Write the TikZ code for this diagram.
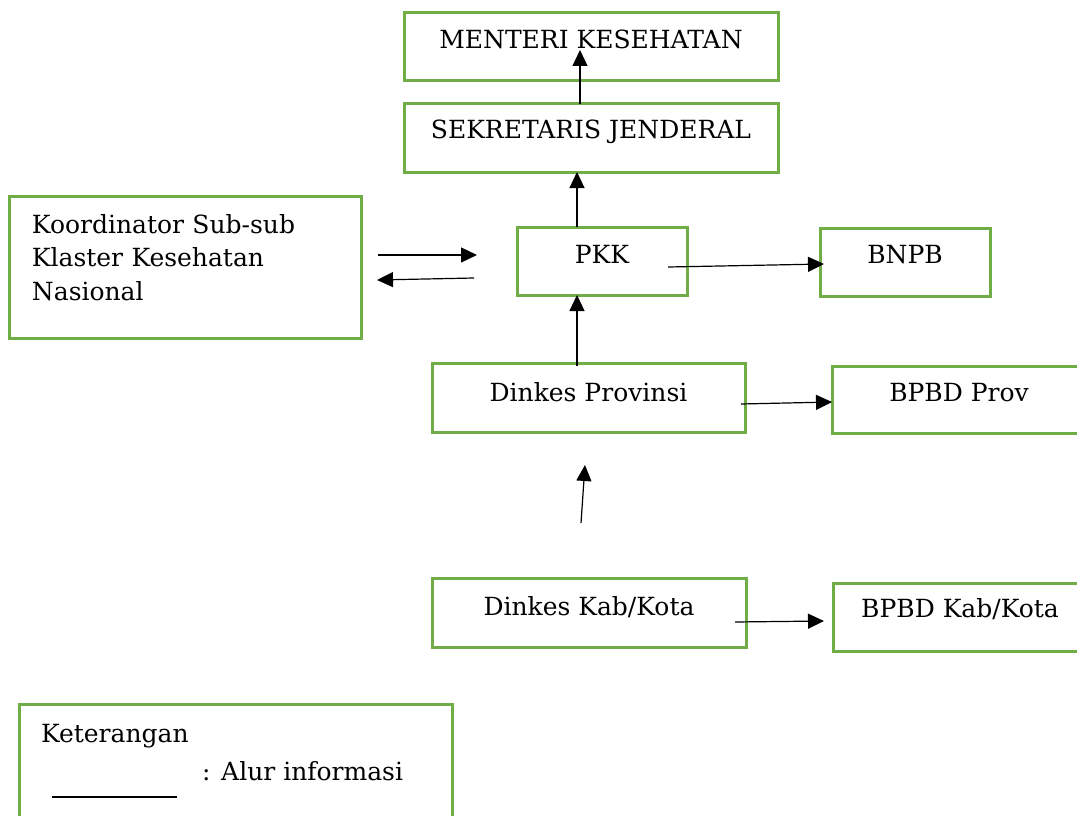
\documentclass[tikz,border=0pt]{standalone}
\usepackage{fontspec}
\setmainfont{DejaVu Serif}
\usetikzlibrary{arrows.meta}
\definecolor{boxgreen}{HTML}{70AD47}
\tikzset{
  gbox/.style={draw=boxgreen, line width=3pt, inner sep=0pt, outer sep=0pt, anchor=north west, align=center},
  arr/.style={draw=black, line width=1.2pt, -{Triangle[length=16pt,width=15pt]}},
  plain/.style={draw=black, line width=1.2pt},
  every node/.style={font=\fontsize{25pt}{33.5pt}\selectfont}
}
\begin{document}
\begin{tikzpicture}[x=1pt,y=-1pt]
\useasboundingbox[fill=white] (0,0) rectangle (1077,816);
% boxes
\node[gbox, minimum width=374pt, text height=36pt, text depth=32pt] (men) at (404,13) {MENTERI KESEHATAN};
\node[gbox, minimum width=374pt, text height=35pt, text depth=33pt] (sek) at (404,104) {SEKRETARIS JENDERAL};
\node[gbox, text width=352pt, align=left, text height=37pt, text depth=105pt] (koor) at (9,196)
  {\hspace*{23pt}Koordinator Sub-sub\\\hspace*{23pt}Klaster Kesehatan\\\hspace*{23pt}Nasional};
\node[gbox, minimum width=170pt, text height=36pt, text depth=32pt] (pkk) at (517,227) {PKK};
\node[gbox, minimum width=170pt, text height=35pt, text depth=33pt] (bnpb) at (820,228) {BNPB};
\node[gbox, minimum width=313pt, text height=38pt, text depth=31pt] (dprov) at (432,363) {Dinkes Provinsi};
\node[gbox, minimum width=254pt, text height=35pt, text depth=32pt] (bprov) at (832,366) {BPBD Prov};
\node[gbox, minimum width=314pt, text height=37pt, text depth=32pt] (dkab) at (432,578) {Dinkes Kab/Kota};
\node[gbox, minimum width=254pt, text height=34pt, text depth=34pt] (bkab) at (833,583) {BPBD Kab/Kota};
\node[gbox, text width=433pt, align=left, text height=38pt, text depth=90pt] (ket) at (19,704)
  {\hspace*{22pt}Keterangan};
\node[anchor=base west, inner sep=0pt] (alur) at (202,780) {: Alur informasi};
% free ends
\coordinate (t1) at (580,50);
\coordinate (k1s) at (378,255);
\coordinate (k1e) at (477,255);
\coordinate (k2s) at (474,278);
\coordinate (k2e) at (377,280);
\coordinate (p1s) at (668,267);
\coordinate (p1e) at (824,264);
\coordinate (d1s) at (741,404);
\coordinate (d1e) at (832,402);
\coordinate (f1s) at (581,523);
\coordinate (f1e) at (585,465);
\coordinate (d2s) at (735,622);
\coordinate (d2e) at (824,621);
\coordinate (l1) at (52,797);
\coordinate (l2) at (177,797);
% connectors
\draw[arr] (sek.north -| t1) -- (t1);
\draw[arr] (pkk.north -| 577,0) -- (sek.south -| 577,0);
\draw[arr] ([yshift=-3pt]dprov.north -| 577,0) -- (pkk.south -| 577,0);
\draw[arr] (k1s) -- (k1e);
\draw[arr] (k2s) -- (k2e);
\draw[arr] (p1s) -- (p1e);
\draw[arr] (d1s) -- (d1e);
\draw[arr] (f1s) -- (f1e);
\draw[arr] (d2s) -- (d2e);
\draw[plain] (l1) -- (l2);
\end{tikzpicture}
\end{document}
